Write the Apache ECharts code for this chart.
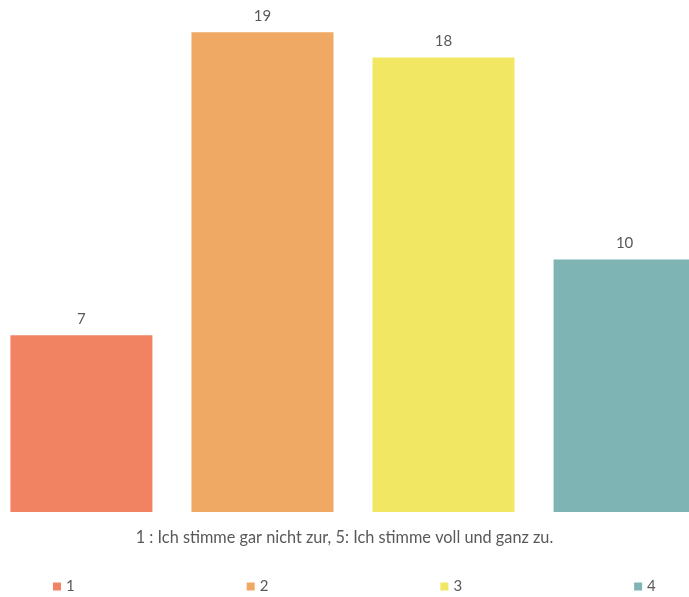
<!DOCTYPE html>
<html>
<head>
<meta charset="utf-8">
<script src="https://cdn.jsdelivr.net/npm/echarts@6/dist/echarts.min.js"></script>
<style>
  html, body { margin: 0; padding: 0; background: #fff; }
  #chart { width: 689px; height: 597px; }
</style>
</head>
<body>
<div id="chart"></div>
<script>
const seriesNames = ['1', '2', '3', '4'];
const values = [7, 19, 18, 10];
const colors = ['#F18262', '#F0A964', '#F1E763', '#7EB4B3'];
const axisTitle = '1 : Ich stimme gar nicht zur, 5: Ich stimme voll und ganz zu.';

const chart = echarts.init(document.getElementById('chart'));
const textColor = '#595959';
const font = 'Lato, "Open Sans", sans-serif';

const option = {
  animation: false,
  backgroundColor: '#fff',
  textStyle: { fontFamily: font },
  // axis caption sits centred on the canvas, not on the (wider) grid
  title: {
    text: axisTitle,
    left: 'center',
    top: 530,
    padding: 0,
    textStyle: { color: textColor, fontSize: 16.3, fontWeight: 'normal', fontFamily: font }
  },
  legend: {
    data: seriesNames,
    left: 53,
    bottom: 3,
    padding: 0,
    itemWidth: 8,
    itemHeight: 8,
    itemGap: 172,
    icon: 'rect',
    textStyle: { color: textColor, fontSize: 15, fontFamily: font }
  },
  grid: {
    left: 0,
    right: -17,
    top: 7,
    bottom: 85,
    outerBoundsMode: 'none'
  },
  xAxis: {
    type: 'category',
    data: [''],
    axisLine: { show: false },
    axisTick: { show: false },
    axisLabel: { show: false }
  },
  yAxis: {
    type: 'value',
    min: 0,
    max: 20,
    show: false
  },
  series: seriesNames.map((name, i) => ({
    name,
    type: 'bar',
    data: [values[i]],
    barWidth: 142,
    barGap: '27.5%',
    itemStyle: { color: colors[i] },
    label: {
      show: true,
      position: 'top',
      distance: 9,
      color: textColor,
      fontSize: 15,
      fontFamily: font
    }
  }))
};

chart.setOption(option);
</script>
</body>
</html>
